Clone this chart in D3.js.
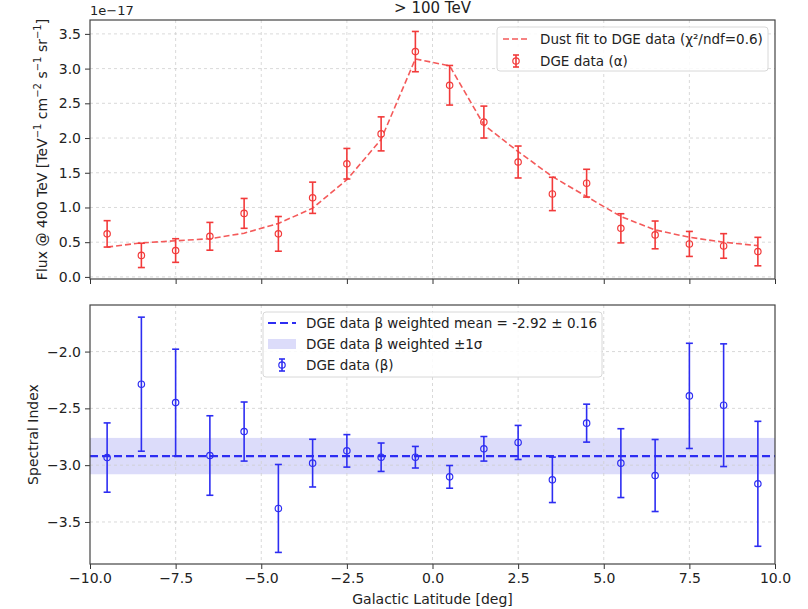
<!DOCTYPE html>
<html>
<head>
<meta charset="utf-8">
<script src="https://cdn.jsdelivr.net/npm/d3@7"></script>
<style>
body{margin:0;background:#fff;}
svg text{font-family:"DejaVu Sans",sans-serif;fill:#222;}
</style>
</head>
<body>
<svg id="chart" width="808" height="609"></svg>
<script>
// ---------------- data ----------------
const latitudes = [-9.5,-8.5,-7.5,-6.5,-5.5,-4.5,-3.5,-2.5,-1.5,-0.5,0.5,1.5,2.5,3.5,4.5,5.5,6.5,7.5,8.5,9.5];
// flux in units of 1e-17
const fluxAlpha = [0.62,0.31,0.38,0.585,0.915,0.62,1.14,1.63,2.06,3.245,2.76,2.23,1.655,1.195,1.35,0.70,0.605,0.475,0.446,0.365];
const fluxAlphaErr = [0.19,0.175,0.17,0.2,0.215,0.25,0.225,0.22,0.245,0.29,0.285,0.23,0.23,0.24,0.2,0.21,0.2,0.18,0.177,0.205];
const dustFit = [0.43,0.49,0.52,0.55,0.63,0.77,0.99,1.40,1.98,3.14,3.04,2.19,1.805,1.445,1.157,0.87,0.677,0.571,0.50,0.45];
const specBeta = [-2.933,-2.287,-2.449,-2.915,-2.704,-3.381,-2.982,-2.874,-2.93,-2.93,-3.103,-2.856,-2.80,-3.129,-2.63,-2.982,-3.091,-2.39,-2.472,-3.164];
const specBetaErr = [0.305,0.59,0.47,0.35,0.26,0.387,0.21,0.143,0.125,0.095,0.1,0.108,0.15,0.2,0.167,0.303,0.317,0.463,0.54,0.55];
const betaMean = -2.92;
const betaSigma = 0.16;
const xTicks = [-10,-7.5,-5,-2.5,0,2.5,5,7.5,10];
const yTicksTop = [0,0.5,1,1.5,2,2.5,3,3.5];
const yTicksBottom = [-3.5,-3,-2.5,-2];

// ---------------- layout ----------------
const svg = d3.select("#chart");
const L = 90, R = 775;
const top1 = 20, bot1 = 279, top2 = 305, bot2 = 564;
const red = "#f23a3a", blue = "#2d2df2", band = "#dcdcfa";
const fmt = d => d3.format(".1f")(d).replace("-", "\u2212");
const legendFont = 13.5;

const x = d3.scaleLinear().domain([-10,10]).range([L,R]);
const y1 = d3.scaleLinear().domain([-0.03,3.70]).range([bot1,top1]);
const y2 = d3.scaleLinear().domain([-3.87,-1.59]).range([bot2,top2]);

function grid(g, y, yt, t, b){
  g.selectAll(".gx").data(xTicks.slice(1,-1)).join("line")
    .attr("x1",d=>x(d)).attr("x2",d=>x(d)).attr("y1",t).attr("y2",b)
    .attr("stroke","#cfcfcf").attr("stroke-width",0.8).attr("stroke-dasharray","3,3");
  g.selectAll(".gy").data(yt).join("line")
    .attr("x1",L).attr("x2",R).attr("y1",d=>y(d)).attr("y2",d=>y(d))
    .attr("stroke","#cfcfcf").attr("stroke-width",0.8).attr("stroke-dasharray","3,3");
}
function axes(y, yt, t, b, showX){
  const ax = svg.append("g").attr("transform",`translate(0,${b})`)
    .call(d3.axisBottom(x).tickValues(xTicks).tickSize(5).tickPadding(4).tickFormat(showX?fmt:""));
  ax.select(".domain").remove();
  ax.selectAll("line").attr("stroke","#333");
  ax.selectAll("text").attr("font-size",14).attr("fill","#222");
  const ay = svg.append("g").attr("transform",`translate(${L},0)`)
    .call(d3.axisLeft(y).tickValues(yt).tickSize(5).tickPadding(4).tickFormat(fmt));
  ay.select(".domain").remove();
  ay.selectAll("line").attr("stroke","#333");
  ay.selectAll("text").attr("font-size",14).attr("fill","#222");
  svg.append("rect").attr("x",L).attr("y",t).attr("width",R-L).attr("height",b-t)
    .attr("fill","none").attr("stroke","#444").attr("stroke-width",1.2);
}
function errorbars(g, xs, ys, es, y, color){
  const d = xs.map((v,i)=>({x:v,y:ys[i],e:es[i]}));
  g.selectAll(".eb").data(d).join("line")
    .attr("x1",p=>x(p.x)).attr("x2",p=>x(p.x)).attr("y1",p=>y(p.y-p.e)).attr("y2",p=>y(p.y+p.e))
    .attr("stroke",color).attr("stroke-width",1.6);
  g.selectAll(".ct").data(d).join("line")
    .attr("x1",p=>x(p.x)-3.5).attr("x2",p=>x(p.x)+3.5).attr("y1",p=>y(p.y+p.e)).attr("y2",p=>y(p.y+p.e))
    .attr("stroke",color).attr("stroke-width",1.6);
  g.selectAll(".cb").data(d).join("line")
    .attr("x1",p=>x(p.x)-3.5).attr("x2",p=>x(p.x)+3.5).attr("y1",p=>y(p.y-p.e)).attr("y2",p=>y(p.y-p.e))
    .attr("stroke",color).attr("stroke-width",1.6);
  g.selectAll(".mk").data(d).join("circle")
    .attr("cx",p=>x(p.x)).attr("cy",p=>y(p.y)).attr("r",3.2)
    .attr("fill","none").attr("stroke",color).attr("stroke-width",1.2);
}

// ---------------- top panel ----------------
const g1 = svg.append("g");
grid(g1.append("g"), y1, yTicksTop, top1, bot1);
g1.append("path").datum(latitudes.map((v,i)=>[v,dustFit[i]]))
  .attr("d", d3.line().x(d=>x(d[0])).y(d=>y1(d[1])))
  .attr("fill","none").attr("stroke","#f45a5a").attr("stroke-width",1.6).attr("stroke-dasharray","6,3");
errorbars(g1.append("g"), latitudes, fluxAlpha, fluxAlphaErr, y1, red);
axes(y1, yTicksTop, top1, bot1, false);

svg.append("text").attr("x",L).attr("y",top1-5).attr("font-size",13).text("1e\u221217");
svg.append("text").attr("x",(L+R)/2).attr("y",13).attr("font-size",15).attr("text-anchor","middle").text("> 100 TeV");
svg.append("text").attr("transform",`translate(47,${(top1+bot1)/2}) rotate(-90)`)
  .attr("text-anchor","middle").attr("font-size",14)
  .html('Flux @ 400 TeV [TeV<tspan dy="-6" font-size="10">\u22121</tspan><tspan dy="6"> cm</tspan><tspan dy="-6" font-size="10">\u22122</tspan><tspan dy="6"> s</tspan><tspan dy="-6" font-size="10">\u22121</tspan><tspan dy="6"> sr</tspan><tspan dy="-6" font-size="10">\u22121</tspan><tspan dy="6">]</tspan>');

// legend top
const lg1 = svg.append("g");
lg1.append("rect").attr("x",497).attr("y",27).attr("width",271).attr("height",44).attr("rx",3)
  .attr("fill","white").attr("fill-opacity",0.85).attr("stroke","#d8d8d8");
lg1.append("line").attr("x1",503).attr("x2",530).attr("y1",39).attr("y2",39)
  .attr("stroke","#f45a5a").attr("stroke-width",1.6).attr("stroke-dasharray","6,3");
lg1.append("text").attr("x",540).attr("y",44).attr("font-size",legendFont).text("Dust fit to DGE data (\u03c7\u00b2/ndf=0.6)");
lg1.append("line").attr("x1",516).attr("x2",516).attr("y1",55).attr("y2",67).attr("stroke",red).attr("stroke-width",1.6);
lg1.append("line").attr("x1",513).attr("x2",519).attr("y1",55).attr("y2",55).attr("stroke",red).attr("stroke-width",1.6);
lg1.append("line").attr("x1",513).attr("x2",519).attr("y1",67).attr("y2",67).attr("stroke",red).attr("stroke-width",1.6);
lg1.append("circle").attr("cx",516).attr("cy",61).attr("r",3.2).attr("fill","none").attr("stroke",red).attr("stroke-width",1.2);
lg1.append("text").attr("x",540).attr("y",66).attr("font-size",legendFont).text("DGE data (\u03b1)");

// ---------------- bottom panel ----------------
const g2 = svg.append("g");
g2.append("rect").attr("x",L).attr("y",y2(betaMean+betaSigma)).attr("width",R-L)
  .attr("height",y2(betaMean-betaSigma)-y2(betaMean+betaSigma)).attr("fill",band);
grid(g2.append("g"), y2, yTicksBottom, top2, bot2);
g2.append("line").attr("x1",L).attr("x2",R).attr("y1",y2(betaMean)).attr("y2",y2(betaMean))
  .attr("stroke",blue).attr("stroke-width",2.2).attr("stroke-dasharray","8,4");
errorbars(g2.append("g"), latitudes, specBeta, specBetaErr, y2, blue);
axes(y2, yTicksBottom, top2, bot2, true);

svg.append("text").attr("transform",`translate(38,${(top2+bot2)/2}) rotate(-90)`)
  .attr("text-anchor","middle").attr("font-size",14).text("Spectral Index");
svg.append("text").attr("x",(L+R)/2).attr("y",604).attr("text-anchor","middle").attr("font-size",14).text("Galactic Latitude [deg]");

// legend bottom
const lg2 = svg.append("g");
lg2.append("rect").attr("x",263).attr("y",312).attr("width",339).attr("height",65).attr("rx",3)
  .attr("fill","white").attr("fill-opacity",0.85).attr("stroke","#d8d8d8");
lg2.append("line").attr("x1",268).attr("x2",296).attr("y1",323).attr("y2",323)
  .attr("stroke",blue).attr("stroke-width",2.2).attr("stroke-dasharray","8,4");
lg2.append("text").attr("x",306).attr("y",328).attr("font-size",legendFont).text("DGE data \u03b2 weighted mean = -2.92 \u00b1 0.16");
lg2.append("rect").attr("x",268).attr("y",339).attr("width",28).attr("height",10).attr("fill",band);
lg2.append("text").attr("x",306).attr("y",349).attr("font-size",legendFont).text("DGE data \u03b2 weighted \u00b11\u03c3");
lg2.append("line").attr("x1",282).attr("x2",282).attr("y1",359).attr("y2",371).attr("stroke",blue).attr("stroke-width",1.6);
lg2.append("line").attr("x1",279).attr("x2",285).attr("y1",359).attr("y2",359).attr("stroke",blue).attr("stroke-width",1.6);
lg2.append("line").attr("x1",279).attr("x2",285).attr("y1",371).attr("y2",371).attr("stroke",blue).attr("stroke-width",1.6);
lg2.append("circle").attr("cx",282).attr("cy",365).attr("r",3.2).attr("fill","none").attr("stroke",blue).attr("stroke-width",1.2);
lg2.append("text").attr("x",306).attr("y",370).attr("font-size",legendFont).text("DGE data (\u03b2)");
</script>
</body>
</html>
